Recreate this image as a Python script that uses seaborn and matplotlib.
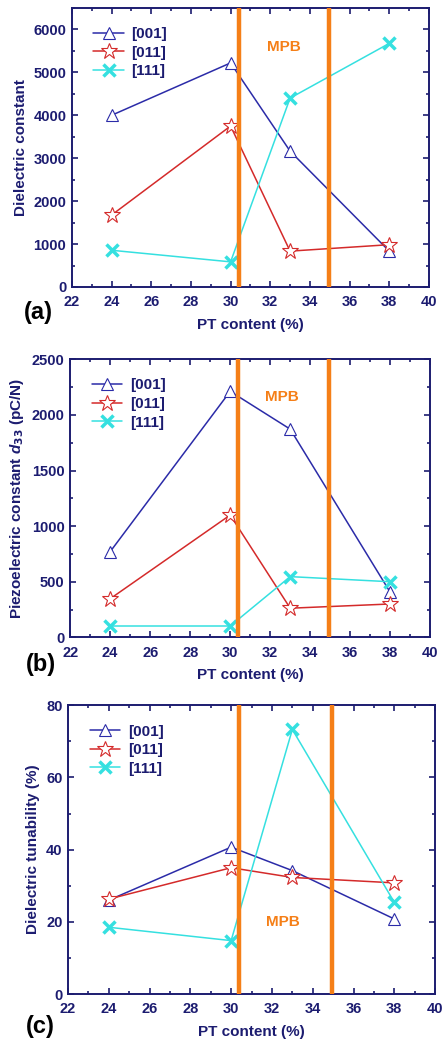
import numpy as np
import pandas as pd
import seaborn as sns
import matplotlib.pyplot as plt
from matplotlib.ticker import MultipleLocator

sns.set_theme(style="ticks")
plt.rcParams['font.family'] = ['Liberation Sans', 'DejaVu Sans']
plt.rcParams['font.weight'] = 'bold'
plt.rcParams['mathtext.fontset'] = 'custom'
plt.rcParams['mathtext.it'] = 'Liberation Sans:italic:bold'

pt = [24, 30, 33, 38]
series = ["[001]", "[011]", "[111]"]

# (a) dielectric constant
eps_001 = [4000, 5220, 3165, 835]
eps_011 = [1675, 3750, 835, 985]
eps_111 = [855, 585, 4400, 5675]

# (b) piezoelectric constant d33
d33_001 = [770, 2212, 1872, 405]
d33_011 = [347, 1100, 262, 300]
d33_111 = [102, 102, 546, 500]

# (c) dielectric tunability
tun_001 = [26.0, 40.7, 34.2, 20.8]
tun_011 = [26.3, 35.0, 32.3, 30.8]
tun_111 = [18.5, 14.8, 73.3, 25.4]

mpb_bounds = [30.4, 34.95]

navy = "#1c1c70"
colors = {"[001]": "#2b2ba8", "[011]": "#d42a2a", "[111]": "#35e0e0"}
mk = {"[001]": dict(marker="^", markersize=9, markerfacecolor="white", markeredgewidth=0.8),
      "[011]": dict(marker="*", markersize=12, markerfacecolor="white", markeredgewidth=0.8),
      "[111]": dict(marker="x", markersize=9, markeredgewidth=2.5)}

# tag, ylabel, data, ymax, major, minor, axes rect, MPB text pos, tag pos (fig px)
panels = [
    ("(a)", "Dielectric constant", [eps_001, eps_011, eps_111], 6500, 1000, 500,
     [0.162, 0.7267, 0.804, 0.2657], (32.7, 5600), (24, 313)),
    ("(b)", "Piezoelectric constant $d_{33}$ (pC/N)", [d33_001, d33_011, d33_111], 2500, 500, 250,
     [0.158, 0.393, 0.811, 0.2648], (32.6, 2165), (26, 665)),
    ("(c)", "Dielectric tunability (%)", [tun_001, tun_011, tun_111], 80, 20, 10,
     [0.153, 0.0533, 0.827, 0.275], (32.55, 20), (26, 1027)),
]

fig = plt.figure(figsize=(4.44, 10.5), dpi=100)

for tag, ylabel, vals, ymax, major, minor, pos, mpb_xy, tag_xy in panels:
    ax = fig.add_axes(pos)
    for name, v in zip(series, vals):
        df = pd.DataFrame({"PT": pt, "val": v})
        sns.lineplot(data=df, x="PT", y="val", ax=ax, color=colors[name], lw=1.1,
                     label=name, markeredgecolor=colors[name], **mk[name])
    for xb in mpb_bounds:
        ax.axvline(xb, color="#f57f17", lw=3.2, zorder=5)
    ax.text(mpb_xy[0], mpb_xy[1], "MPB", color="#f57f17", fontsize=11,
            fontweight="bold", ha="center", va="center")
    ax.set_xlim(22, 40)
    ax.set_ylim(0, ymax)
    ax.xaxis.set_major_locator(MultipleLocator(2))
    ax.xaxis.set_minor_locator(MultipleLocator(1))
    ax.yaxis.set_major_locator(MultipleLocator(major))
    ax.yaxis.set_minor_locator(MultipleLocator(minor))
    ax.tick_params(which="both", direction="in", top=True, right=True,
                   colors=navy, labelcolor=navy, labelsize=10.5, width=1.2)
    ax.tick_params(which="major", length=4)
    ax.tick_params(which="minor", length=2.5)
    ax.tick_params(axis="x", pad=6)
    ax.tick_params(axis="y", pad=4)
    for lbl in ax.get_xticklabels() + ax.get_yticklabels():
        lbl.set_fontweight("bold")
    for s in ax.spines.values():
        s.set_color(navy)
        s.set_linewidth(1.4)
    ax.set_xlabel("PT content (%)", color=navy, fontsize=11, fontweight="bold", labelpad=6)
    ax.set_ylabel(ylabel, color=navy, fontsize=11, fontweight="bold", labelpad=4)
    leg = ax.legend(loc="upper left", frameon=False, fontsize=11, handlelength=2.0,
                    handletextpad=0.5, borderaxespad=0.3, labelspacing=0.3,
                    bbox_to_anchor=(0.03, 0.97))
    for t in leg.get_texts():
        t.set_color(navy)
        t.set_fontweight("bold")
    fig.text(tag_xy[0] / 444, 1 - tag_xy[1] / 1050, tag, fontsize=17,
             fontweight="bold", color="black", ha="left", va="center")

fig.savefig("out.png", dpi=100)
